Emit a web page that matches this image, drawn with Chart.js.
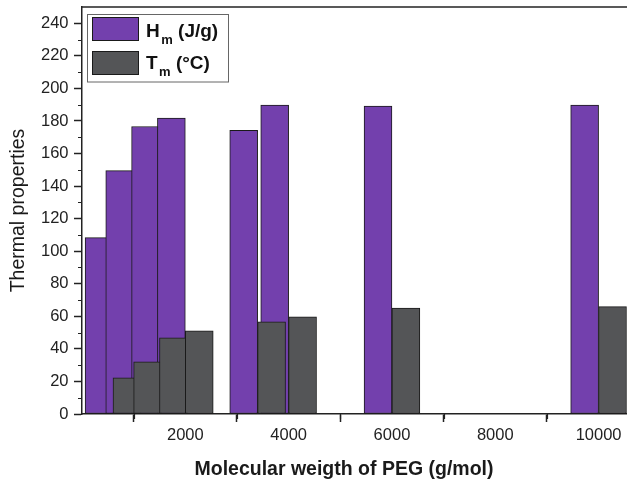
<!DOCTYPE html>
<html>
<head>
<meta charset="utf-8">
<script src="https://cdn.jsdelivr.net/npm/chart.js@4/dist/chart.umd.min.js"></script>
<style>
html,body{margin:0;padding:0;background:#fff;}
#c{display:block;}
</style>
</head>
<body>
<canvas id="c" width="627" height="481"></canvas>
<script>
// ---- data ----
const molecularWeights = [600, 1000, 1500, 2000, 3400, 4000, 6000, 10000];
const meltingEnthalpy = [108.3, 149.5, 176.6, 181.7, 174.2, 189.7, 189.1, 189.7];
const meltingTemperature = [22.2, 32.0, 46.8, 51.1, 56.6, 59.7, 65.0, 66.0];
const seriesLabels = ['H_m (J/g)', 'T_m (°C)'];
const xTickValues = [2000, 4000, 6000, 8000, 10000];
const xMinorTickValues = [1000, 3000, 5000, 7000, 9000];
const yTickValues = [0, 20, 40, 60, 80, 100, 120, 140, 160, 180, 200, 220, 240];
const yMinorTickValues = [10, 30, 50, 70, 90, 110, 130, 150, 170, 190, 210, 230];
const xTitle = 'Molecular weigth of PEG (g/mol)';
const yTitle = 'Thermal properties';

// ---- styles ----
const BAR_SPAN = 540;           // width of each bar, in x-axis units
const FONT = "'Liberation Sans', Arial, Helvetica, sans-serif";
const INK = '#222222';
const COLORS = ['#7340ad', '#545557'];

const barSpanPlugin = {
  id: 'barSpan',
  beforeDatasetsUpdate(chart) {
    const s = chart.scales.x;
    const w = Math.abs(s.getPixelForValue(BAR_SPAN) - s.getPixelForValue(0));
    chart.data.datasets.forEach(d => { d.barThickness = w; });
  }
};

// draw Hm first, then Tm on top of it
const drawOrderPlugin = {
  id: 'drawOrder',
  beforeDatasetDraw(chart, args) {
    if (args.index === 0) return false;
    if (args.index === 1) {
      const m = chart.getDatasetMeta(0);
      if (!m.hidden) m.controller.draw();
    }
  }
};

const framePlugin = {
  id: 'frame',
  afterDraw(chart) {
    const ctx = chart.ctx;
    const a = chart.chartArea;
    const xs = chart.scales.x, ys = chart.scales.y;
    ctx.save();
    ctx.strokeStyle = INK;
    ctx.lineWidth = 1.5;
    ctx.beginPath();
    ctx.moveTo(a.left, a.top);
    ctx.lineTo(a.right, a.top);
    ctx.stroke();
    ctx.lineWidth = 1.2;
    ctx.beginPath();
    yMinorTickValues.forEach(v => {
      const y = Math.round(ys.getPixelForValue(v)) + 0.5;
      ctx.moveTo(a.left - 4, y); ctx.lineTo(a.left, y);
    });
    xMinorTickValues.forEach(v => {
      const x = Math.round(xs.getPixelForValue(v)) + 0.5;
      ctx.moveTo(x, a.bottom); ctx.lineTo(x, a.bottom + 5);
    });
    ctx.stroke();
    // x-axis title (the original plot is cropped on the right, so it sits left of the axis centre)
    ctx.fillStyle = '#1a1a1a';
    ctx.font = 'bold 19.5px ' + FONT;
    ctx.textAlign = 'center';
    ctx.textBaseline = 'alphabetic';
    ctx.fillText(xTitle, 344, 474.5);
    ctx.restore();
  }
};

const legendPlugin = {
  id: 'customLegend',
  afterDraw(chart) {
    const ctx = chart.ctx;
    const a = chart.chartArea;
    const bx = a.left + 5.5, by = 14.5, bw = 141, bh = 67.5;
    ctx.save();
    ctx.fillStyle = '#fff';
    ctx.fillRect(bx, by, bw, bh);
    ctx.strokeStyle = '#666';
    ctx.lineWidth = 1;
    ctx.strokeRect(bx, by, bw, bh);
    chart.data.datasets.forEach((ds, i) => {
      const sy = 17.5 + i * 34;
      ctx.fillStyle = ds.backgroundColor;
      ctx.fillRect(bx + 5, sy, 46, 23);
      ctx.strokeStyle = '#1a1a1a';
      ctx.strokeRect(bx + 5, sy, 46, 23);
      const baseline = 36.5 + i * 32.5;
      let tx = bx + 58.5;
      const m = /^(.*?)_(\S+)(.*)$/.exec(ds.label);
      const main = m ? m[1] : ds.label;
      ctx.fillStyle = '#111';
      ctx.textBaseline = 'alphabetic';
      ctx.textAlign = 'left';
      ctx.font = 'bold 19px ' + FONT;
      ctx.fillText(main, tx, baseline);
      tx += ctx.measureText(main).width + 1.5;
      if (m) {
        ctx.font = 'bold 13px ' + FONT;
        ctx.fillText(m[2], tx, baseline + 7);
        tx += ctx.measureText(m[2]).width;
        ctx.font = 'bold 19px ' + FONT;
        ctx.fillText(m[3], tx, baseline);
      }
    });
    ctx.restore();
  }
};

const datasets = [
  {
    label: seriesLabels[0],
    data: molecularWeights.map((x, i) => ({ x: x, y: meltingEnthalpy[i] })),
    backgroundColor: COLORS[0]
  },
  {
    label: seriesLabels[1],
    data: molecularWeights.map((x, i) => ({ x: x, y: meltingTemperature[i] })),
    backgroundColor: COLORS[1]
  }
].map(d => Object.assign(d, { borderColor: '#1a1a1a', borderWidth: 1, borderSkipped: false }));

new Chart(document.getElementById('c'), {
  type: 'bar',
  data: { datasets },
  plugins: [barSpanPlugin, drawOrderPlugin, framePlugin, legendPlugin],
  options: {
    responsive: false,
    animation: false,
    devicePixelRatio: 1,
    layout: { padding: { top: 7, right: 0, bottom: 0, left: 0 } },
    plugins: { legend: { display: false }, tooltip: { enabled: false } },
    scales: {
      x: {
        type: 'linear',
        min: 0,
        max: 10550,
        offset: false,
        afterBuildTicks: s => { s.ticks = xTickValues.map(v => ({ value: v })); },
        ticks: {
          font: { family: FONT, size: 16.5 }, color: INK, padding: 4,
          maxRotation: 0, autoSkip: false,
          callback: v => String(v)
        },
        grid: { drawOnChartArea: false, drawTicks: true, tickLength: 8, tickColor: INK, tickWidth: 1.5 },
        border: { display: true, color: INK, width: 1.5 },
        title: { display: false },
        afterFit: s => { s.height = 67; s.paddingLeft = 0; s.paddingRight = 0; }
      },
      y: {
        type: 'linear',
        min: 0,
        max: 250,
        afterBuildTicks: s => { s.ticks = yTickValues.map(v => ({ value: v })); },
        ticks: { font: { family: FONT, size: 16.5 }, color: INK, padding: 5.5, callback: v => String(v) },
        grid: { drawOnChartArea: false, drawTicks: true, tickLength: 8, tickColor: INK, tickWidth: 1.5 },
        border: { display: true, color: INK, width: 1.5 },
        title: { display: true, text: yTitle, color: '#1a1a1a', font: { family: FONT, size: 19.5 }, padding: { top: 6.6, bottom: 0 } },
        afterFit: s => { s.width = 82; s.paddingTop = 0; s.paddingBottom = 0; }
      }
    }
  }
});
</script>
</body>
</html>
